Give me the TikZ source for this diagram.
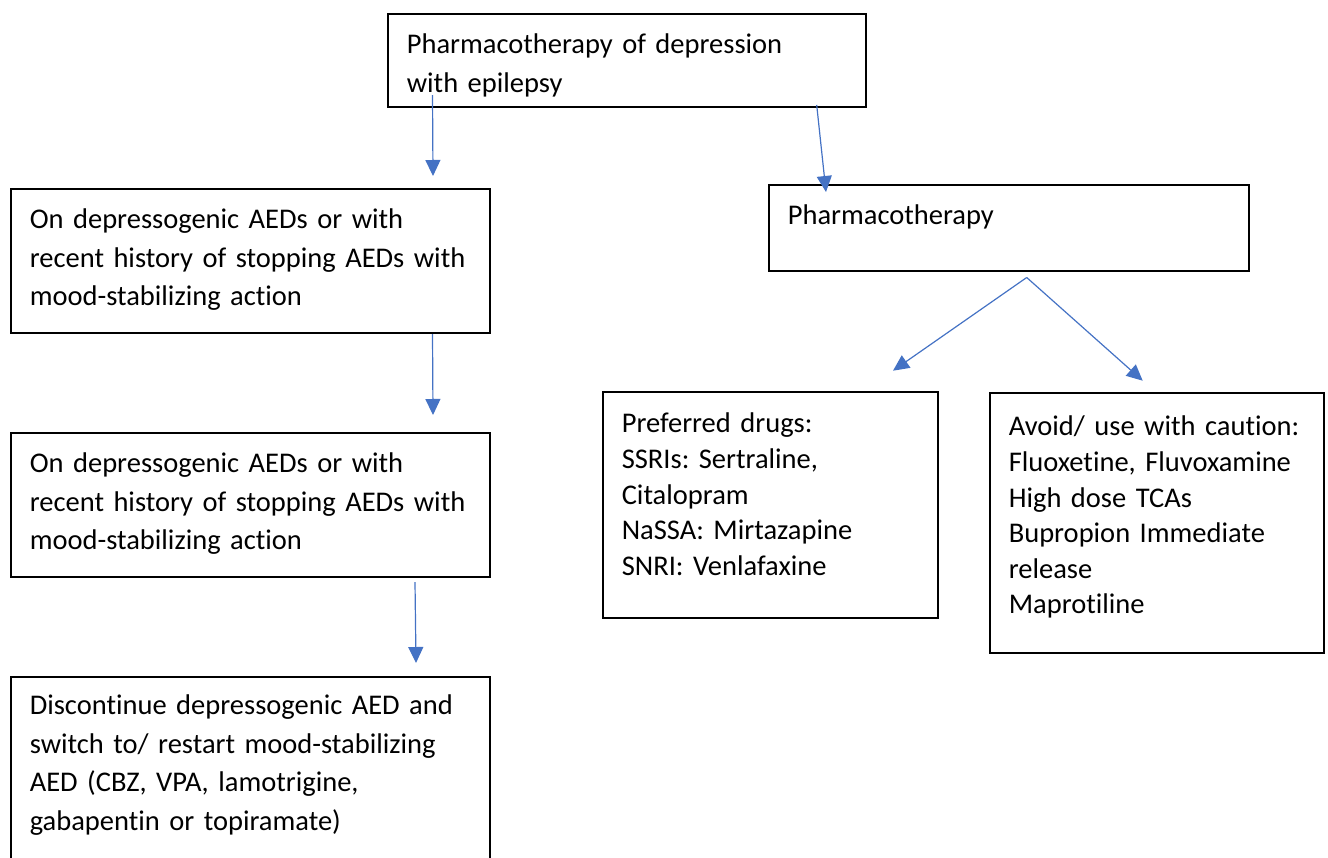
\documentclass[tikz,border=0pt]{standalone}
\usepackage{fontspec}
\setmainfont{Carlito}[Ligatures=NoCommon]
\usetikzlibrary{arrows.meta}
\frenchspacing
\hyphenpenalty=10000
\exhyphenpenalty=10000

\definecolor{flowblue}{HTML}{4472C4}

\tikzset{
    box/.style={draw, line width=1.6pt, anchor=north west, inner xsep=19pt,
        inner ysep=0pt, align=left, font=\fontsize{28.5}{38.5}\selectfont},
    tightbox/.style={box, font=\fontsize{28.5}{35.6}\selectfont},
    flow/.style={draw=flowblue, line width=1.2pt,
        -{Triangle[length=16pt,width=15pt,fill=flowblue]}}
}

\begin{document}
\begin{tikzpicture}[x=1pt, y=-1pt]
    \useasboundingbox (0,0) rectangle (1328,857);

    % top of the chart
    \node[box, text width=440pt, text height=40pt, text depth=53pt] (root) at (387,13)
        {Pharmacotherapy of depression\\with epilepsy};

    % left column
    \node[box, text width=441pt, text height=40pt, text depth=104pt] (aeds) at (10,188)
        {On depressogenic AEDs or with\\recent history of stopping AEDs with\\mood-stabilizing action};
    \node[box, text width=441pt, text height=40pt, text depth=104pt] (aedsb) at (10,432)
        {On depressogenic AEDs or with\\recent history of stopping AEDs with\\mood-stabilizing action};
    \node[box, text width=441pt, text height=38pt, text depth=200pt] (switch) at (10,676)
        {Discontinue depressogenic AED and\\switch to/ restart mood-stabilizing\\AED (CBZ, VPA, lamotrigine,\\gabapentin or topiramate)};

    % right column
    \node[box, text width=442pt, text height=40pt, text depth=46pt] (pharma) at (768,184)
        {Pharmacotherapy};
    \node[tightbox, text width=297pt, text height=41pt, text depth=185pt] (preferred) at (602,391)
        {Preferred drugs:\\SSRIs: Sertraline,\\Citalopram\\NaSSA: Mirtazapine\\SNRI: Venlafaxine};
    \node[tightbox, text width=296pt, text height=43pt, text depth=217pt] (avoid) at (989,392)
        {Avoid/ use with caution:\\Fluoxetine, Fluvoxamine\\High dose TCAs\\Bupropion Immediate\\release\\Maprotiline};

    % loose arrow ends
    \coordinate (rootL) at (432.5,95);
    \coordinate (rootR) at (816.7,105);
    \coordinate (aedsIn) at (433,176);
    \coordinate (pharmaIn) at (826,192);
    \coordinate (aedsOut) at (432.5,334);
    \coordinate (aedsbIn) at (433,415);
    \coordinate (aedsbOut) at (415,582);
    \coordinate (switchIn) at (416,663);
    \coordinate (fork) at (1026.7,277.5);
    \coordinate (preferredIn) at (893,370.7);
    \coordinate (avoidIn) at (1142.7,380.7);

    \draw[flow] (rootL) -- (aedsIn);
    \draw[flow] (rootR) -- (pharmaIn);
    \draw[flow] (aedsOut) -- (aedsbIn);
    \draw[flow] (aedsbOut) -- (switchIn);
    \draw[flow] (fork) -- (preferredIn);
    \draw[flow] (fork) -- (avoidIn);
\end{tikzpicture}
\end{document}
